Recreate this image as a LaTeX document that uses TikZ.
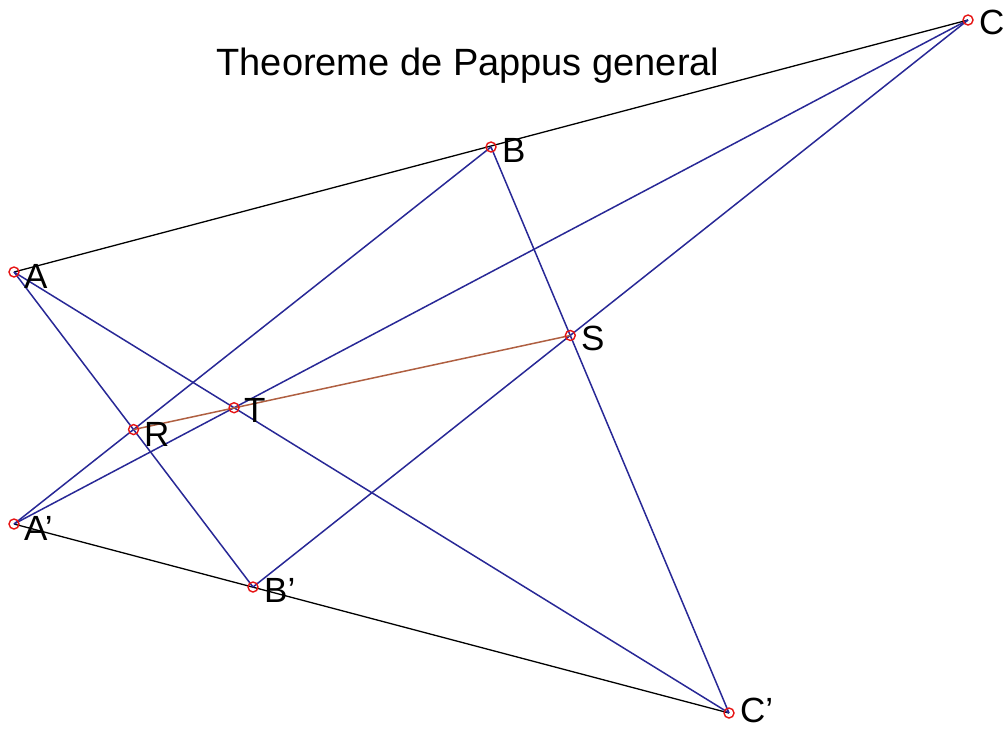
\documentclass[tikz,border=0pt]{standalone}
\usepackage{fontspec}
\setmainfont{Liberation Sans}
\definecolor{lineblue}{RGB}{40,40,150}
\definecolor{linebrown}{RGB}{175,95,65}
\definecolor{ptred}{RGB}{230,20,20}
\tikzset{
  blueline/.style={draw=lineblue, line width=1.5pt},
  blackline/.style={draw=black, line width=1.3pt},
  brownline/.style={draw=linebrown, line width=1.5pt},
  ptmark/.style={circle, draw=ptred, line width=1.4pt, minimum size=10pt, inner sep=0pt},
  ptlabel/.style={font=\fontsize{35}{35}\selectfont, inner sep=0pt, anchor=west}
}
\begin{document}
\begin{tikzpicture}[x=1pt,y=-1pt]
\useasboundingbox (0,0) rectangle (1008,729);
\coordinate (A) at (14,272);
\coordinate (B) at (491,147);
\coordinate (C) at (968,20);
\coordinate (A') at (14,524);
\coordinate (B') at (253,587);
\coordinate (C') at (729,713);
\coordinate (R) at (intersection of A--B' and A'--B);
\coordinate (T) at (intersection of A--C' and A'--C);
\coordinate (S) at (intersection of B--C' and B'--C);
\node[font=\fontsize{38}{38}\selectfont, inner sep=0pt] (title) at (468,66) {Theoreme de Pappus general};
\draw[blackline] (A) -- (C);
\draw[blackline] (A') -- (C');
\draw[blueline] (A) -- (B');
\draw[blueline] (A) -- (C');
\draw[blueline] (B) -- (A');
\draw[blueline] (B) -- (C');
\draw[blueline] (C) -- (A');
\draw[blueline] (C) -- (B');
\draw[brownline] (R) -- (S);
\foreach \p in {A,B,C,A',B',C',R,T,S} {
  \node[ptmark] (m\p) at (\p) {};
}
\node[ptlabel] (lA) at (24,276) {A};
\node[ptlabel] (lB) at (502,150) {B};
\node[ptlabel] (lC) at (979,22) {C};
\node[ptlabel] (lA') at (24,528) {A'};
\node[ptlabel] (lB') at (264,590) {B'};
\node[ptlabel] (lC') at (740,710) {C'};
\node[ptlabel] (lR) at (144,434) {R};
\node[ptlabel] (lT) at (244,410) {T};
\node[ptlabel] (lS) at (581,338) {S};
\end{tikzpicture}
\end{document}
